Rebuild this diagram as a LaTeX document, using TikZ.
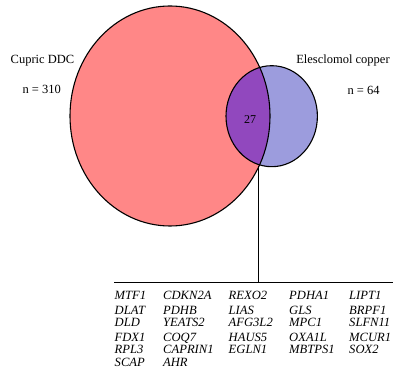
\documentclass[tikz,border=0pt]{standalone}
\usepackage{fontspec}
\setmainfont{Liberation Serif}
\definecolor{ddcpink}{RGB}{255,135,135}
\definecolor{eslav}{RGB}{156,156,221}
\definecolor{overlap}{RGB}{145,72,190}
\begin{document}
\begin{tikzpicture}[x=1pt,y=1pt,
  outline/.style={draw=black,line width=1.1pt},
  setlabel/.style={inner sep=0pt,anchor=base,font=\fontsize{12.5}{14}\selectfont},
  gene/.style={inner sep=0pt,anchor=base west,text height=8.4pt,text depth=0pt,font=\fontsize{12.6}{15}\selectfont\itshape},
  connector/.style={draw=black,line width=0.9pt}]
\useasboundingbox (0,0) rectangle (393,377);
% sets
\fill[ddcpink] (170,261) ellipse [x radius=100,y radius=110];
\fill[eslav] (271.7,260.8) ellipse [x radius=45.7,y radius=50.5];
\begin{scope}
  \clip (170,261) ellipse [x radius=100,y radius=110];
  \fill[overlap] (271.7,260.8) ellipse [x radius=45.7,y radius=50.5];
\end{scope}
\path[outline] (170,261) ellipse [x radius=100,y radius=110];
\path[outline] (271.7,260.8) ellipse [x radius=45.7,y radius=50.5];
% labels
\node[setlabel] (ddc) at (42.5,313) {Cupric DDC};
\node[setlabel] (ddcn) at (41.7,283) {n = 310};
\node[setlabel] (es) at (343,313) {Elesclomol copper};
\node[setlabel] (esn) at (363.6,282) {n = 64};
\node[inner sep=0pt,font=\fontsize{12}{14}\selectfont] (count) at (250,257) {27};
% connector
\coordinate (ovbot) at (258,211);
\coordinate (junc) at (258,95);
\coordinate (lineL) at (114,95);
\coordinate (lineR) at (393,95);
\draw[connector] (ovbot) -- (junc);
\draw[connector] (lineL) -- (lineR);
% genes
\foreach \g [count=\i] in {MTF1,DLAT,DLD,FDX1,RPL3,SCAP}{
  \pgfmathsetmacro{\yy}{{77,62,50.5,35.5,23.5,10}[\i-1]}
  \node[gene] (ga\i) at (114.5,\yy) {\g};}
\foreach \g [count=\i] in {CDKN2A,PDHB,YEATS2,COQ7,CAPRIN1,AHR}{
  \pgfmathsetmacro{\yy}{{77,62,50.5,35.5,23.5,10}[\i-1]}
  \node[gene] (gb\i) at (163,\yy) {\g};}
\foreach \g [count=\i] in {REXO2,LIAS,AFG3L2,HAUS5,EGLN1}{
  \pgfmathsetmacro{\yy}{{77,62,50.5,35.5,23.5,10}[\i-1]}
  \node[gene] (gc\i) at (228.5,\yy) {\g};}
\foreach \g [count=\i] in {PDHA1,GLS,MPC1,OXA1L,MBTPS1}{
  \pgfmathsetmacro{\yy}{{77,62,50.5,35.5,23.5,10}[\i-1]}
  \node[gene] (gd\i) at (289,\yy) {\g};}
\foreach \g [count=\i] in {LIPT1,BRPF1,SLFN11,MCUR1,SOX2}{
  \pgfmathsetmacro{\yy}{{77,62,50.5,35.5,23.5,10}[\i-1]}
  \node[gene] (ge\i) at (349,\yy) {\g};}
\end{tikzpicture}
\end{document}
